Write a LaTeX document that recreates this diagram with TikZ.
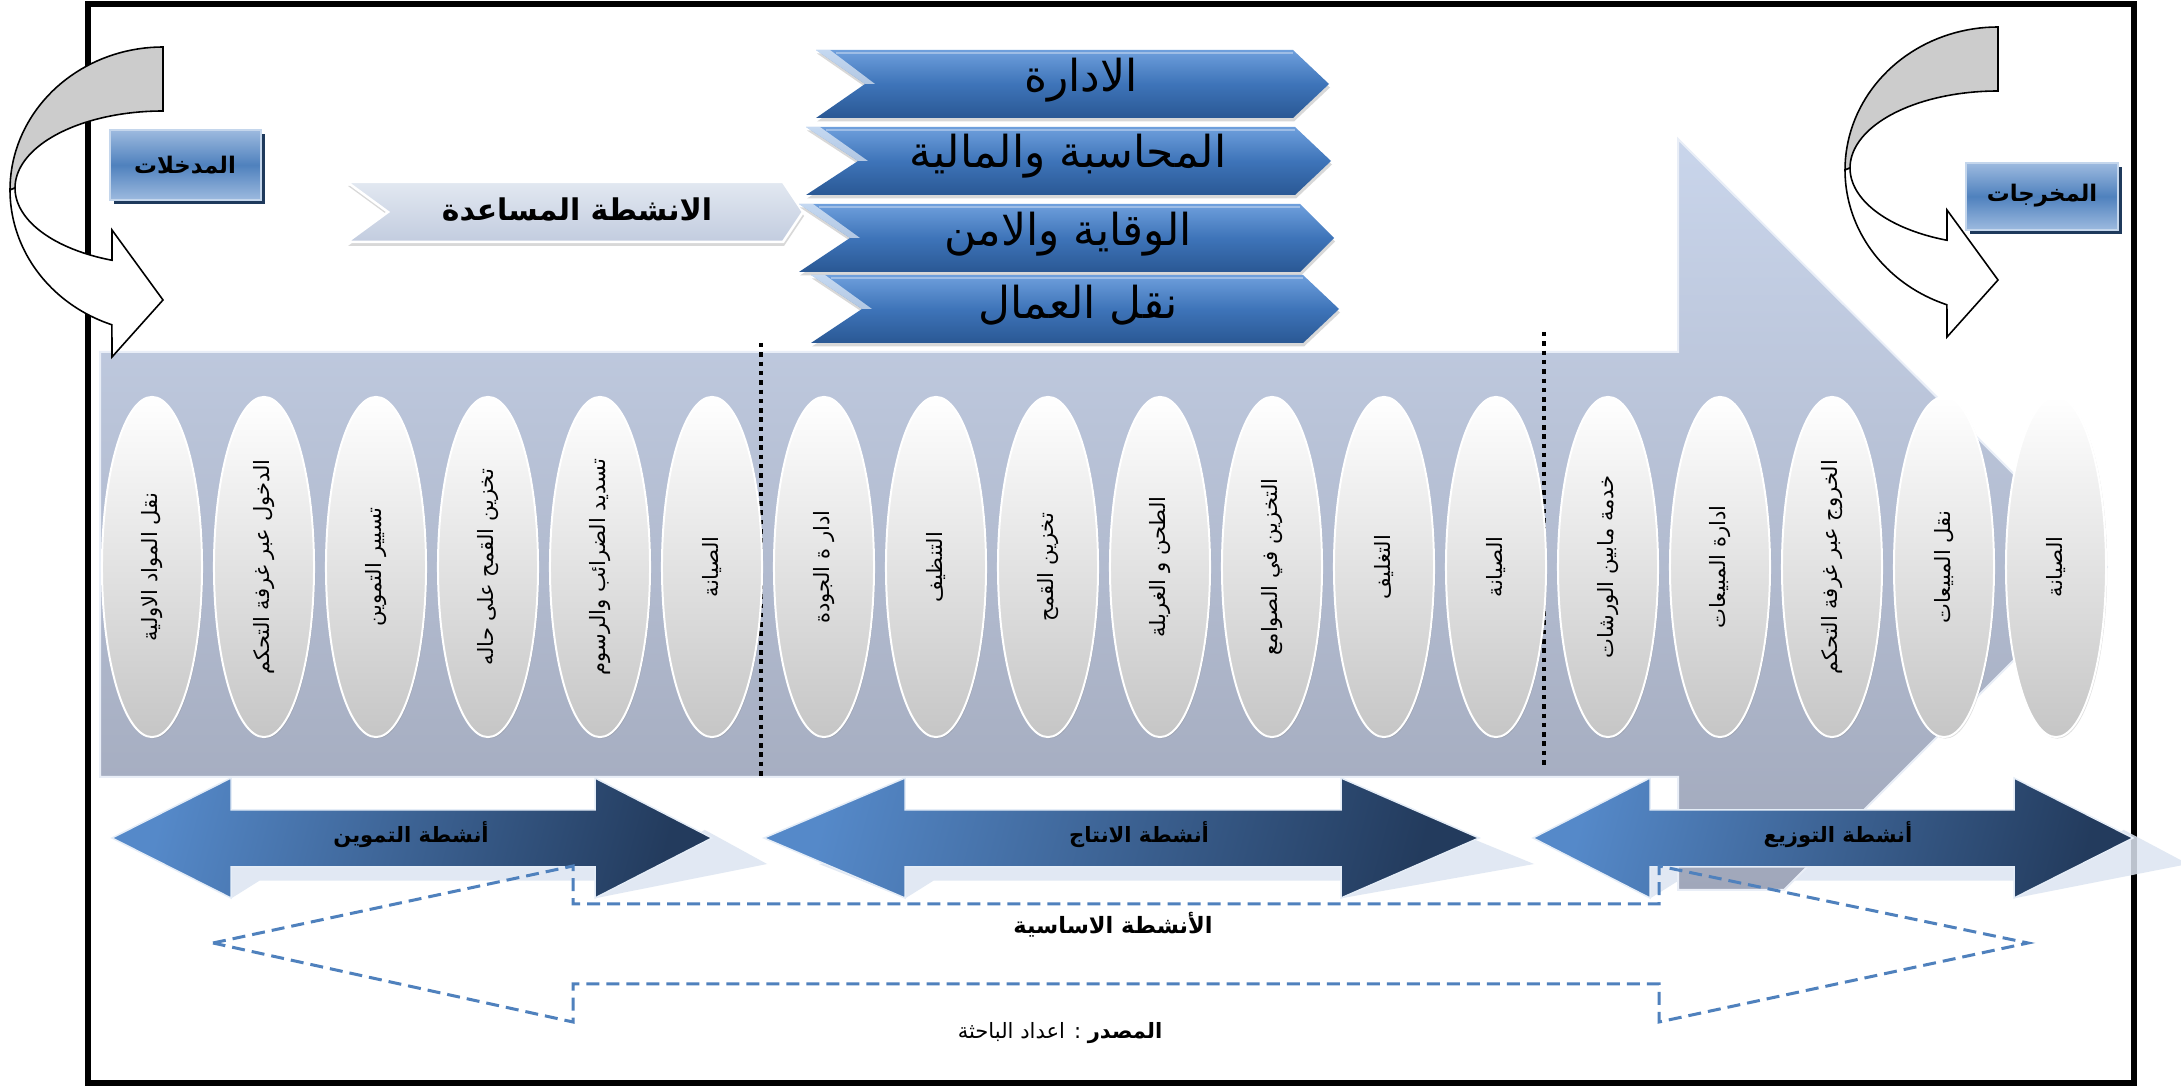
\documentclass[tikz,border=0pt]{standalone}
\usepackage{fontspec}
\TeXXeTstate=1
\newfontfamily\ar[Script=Arabic]{DejaVu Sans}
\usetikzlibrary{shapes.geometric,shadows}
\definecolor{bgtop}{HTML}{C9D5EB}
\definecolor{bgbot}{HTML}{A0A7BA}
\definecolor{dalight}{HTML}{5589C9}
\definecolor{dadark}{HTML}{233B5D}
\definecolor{dashblue}{HTML}{4F81BD}
\definecolor{shadowblue}{HTML}{DCE5F1}
\definecolor{chtop}{HTML}{6E9FDC}
\definecolor{chmid}{HTML}{3E74B9}
\definecolor{chbot}{HTML}{2A5894}
\definecolor{lctop}{HTML}{E2E8F1}
\definecolor{lcbot}{HTML}{C2CCDF}
\definecolor{boxlight}{HTML}{9DBADF}
\definecolor{boxmid}{HTML}{4F81BD}
\definecolor{boxshadow}{HTML}{1F3A5C}
\definecolor{curvegrey}{HTML}{CCCCCC}
% chevron: L, T, B, notch x, right corner x, tip x, style
\newcommand\chev[7]{\path[#7] (#1,#2) -- (#5,#2) -- (#6,{(#2+#3)/2}) -- (#5,#3) -- (#1,#3) -- (#4,{(#2+#3)/2}) -- cycle;}
\newcommand\chevgloss[4]{\fill[white,opacity=0.6] (#1,#2) -- (#4,{(#2+#3)/2}) -- ({#4+10},{(#2+#3)/2}) -- ({#1+14},#2) -- cycle;}
% double arrow: left tip, left head back, right head back, right tip
\newcommand\dblshadow[4]{\begin{scope}[cm={1,0,0.91,0.57,(8.1718cm,-3.8614cm)}]
 \fill[shadowblue,opacity=0.85] (#1,838) -- (#2,778) -- (#2,810) -- (#3,810) -- (#3,778) -- (#4,838) -- (#3,898) -- (#3,867) -- (#2,867) -- (#2,898) -- cycle;
 \end{scope}}
\newcommand\dblarrow[4]{\path[dblstyle] (#1,838) -- (#2,778) -- (#2,810) -- (#3,810) -- (#3,778) -- (#4,838) -- (#3,898) -- (#3,867) -- (#2,867) -- (#2,898) -- cycle;}
\newcommand\curvedarrow{%
 \filldraw[fill=curvegrey,line width=0.45pt] plot[domain=90:0,samples=40] ({163-153*cos(\x)},{190-143*sin(\x)}) -- plot[domain=0:90,samples=40] ({163-148*cos(\x)},{188-77*sin(\x)}) -- cycle;
 \filldraw[fill=white,line width=0.45pt] plot[domain=0:70.5,samples=40] ({163-153*cos(\x)},{190+143*sin(\x)}) -- (112,357) -- (163,300) -- (112,230) -- plot[domain=69.84:0,samples=40] ({163-148*cos(\x)},{188+77*sin(\x)}) -- cycle;}
\begin{document}
\begin{tikzpicture}[x=0.01cm,y=-0.01cm,
  ell/.style={ellipse,minimum width=1cm,minimum height=3.4cm,inner sep=0pt,top color=white,bottom color=gray!45,draw=white,line width=0.02cm,drop shadow={opacity=0.25,shadow xshift=0.012cm,shadow yshift=-0.015cm}},
  elltext/.style={rotate=90,font=\ar\fontsize{6}{6.5}\selectfont,inner sep=0pt},
  dblstyle/.style={top color=dalight,bottom color=dadark,shading angle=75,draw=white!85!dalight,line width=0.015cm},
  dashar/.style={draw=dashblue,line width=0.03cm,dash pattern=on 0.13cm off 0.07cm},
  dotline/.style={line width=0.045cm,dash pattern=on 0.045cm off 0.048cm},
  bluechev/.style={top color=chtop,bottom color=chbot,middle color=chmid,drop shadow={opacity=0.3,shadow xshift=0.01cm,shadow yshift=-0.035cm}},
  lightchev/.style={top color=lctop,bottom color=lcbot,draw=white,line width=0.025cm,drop shadow={opacity=0.3,shadow xshift=0.01cm,shadow yshift=-0.04cm}},
  bigtext/.style={font=\ar\fontsize{12.5}{13}\selectfont,inner sep=0pt},
  boldlbl/.style={font=\ar\bfseries\fontsize{#1}{#1}\selectfont,inner sep=0pt}]
\useasboundingbox (0,0) rectangle (2181,1086);
\fill[white] (0,0) rectangle (2181,1086);
% frame
\draw[line width=0.06cm] (88,4.5) rectangle (2134,1083);
% perspective shadows of the double arrows
\dblshadow{112}{231}{595}{712}
\dblshadow{764}{905}{1341}{1479}
\dblshadow{1533}{1650}{2014}{2133}
% big background arrow
\shade[top color=bgtop,bottom color=bgbot,draw=white!60!bgtop,line width=0.02cm]
  (100,352) -- (1678,352) -- (1678,139) -- (2107,567) -- (1784,890) -- (1678,890) -- (1678,777) -- (100,777) -- cycle;
% dotted separators
\draw[dotline] (761,343) -- (761,778);
\draw[dotline] (1544,332) -- (1544,768);
% ellipses
\foreach \k/\t in {0/{نقل المواد الاولية},1/{الدخول عبر غرفة التحكم},2/{تسيير التموين},3/{تخزين القمح على حاله},4/{تسديد الضرائب والرسوم},5/{الصيانة},6/{ادار ة الجودة},7/{التنظيف},8/{تخزين القمح},9/{الطحن و الغربلة},10/{التخزين في الصوامع},11/{التغليف},12/{الصيانة},13/{خدمة مابين الورشات},14/{ادارة المبيعات},15/{الخروج عبر غرفة التحكم},16/{نقل المبيعات},17/{الصيانة}}{
  \node[ell] (e\k) at ({152+112*\k},567) {};
  \node[elltext] (t\k) at (e\k.center) {\beginR\t\endR};
}
% double arrows
\dblarrow{112}{231}{595}{712}
\dblarrow{764}{905}{1341}{1479}
\dblarrow{1533}{1650}{2014}{2133}
% dashed main arrow
\path[dashar] (213,943) -- (573,866) -- (573,904) -- (1659,904) -- (1659,866) -- (2028,943) -- (1659,1022) -- (1659,984) -- (573,984) -- (573,1022) -- cycle;
% curved arrows
\curvedarrow
\begin{scope}[shift={(1835,-20)}]\curvedarrow\end{scope}
% boxes
\fill[boxshadow] (114,134) rectangle (265,204);
\shade[top color=boxlight,bottom color=boxlight,middle color=boxmid,draw=boxlight!60!white,line width=0.02cm] (110,130) rectangle (261,200);
\fill[boxshadow] (1970,167) rectangle (2122,234);
\shade[top color=boxlight,bottom color=boxlight,middle color=boxmid,draw=boxlight!60!white,line width=0.02cm] (1966,163) rectangle (2118,230);
% light chevron
\chev{347}{182}{242}{388}{783}{803}{lightchev}
% blue chevrons
\chev{816}{50}{118}{865}{1293}{1329}{bluechev}
\chev{806}{127}{195}{858}{1295}{1331}{bluechev}
\chev{799}{204}{272}{850}{1300}{1334}{bluechev}
\chev{811}{275}{343}{862}{1303}{1339}{bluechev}
\chevgloss{816}{50}{118}{865}
\chevgloss{806}{127}{195}{858}
\chevgloss{799}{204}{272}{850}
\chevgloss{811}{275}{343}{862}
\foreach \l/\r/\tt in {816/1293/53,806/1295/130,799/1300/207,811/1303/278}{
  \draw[white,opacity=0.35,line width=0.025cm] ({\l+20},\tt) -- (\r,\tt);}
% texts
\node[boldlbl=6.5] (inlbl) at (185,165) {\beginR المدخلات\endR};
\node[boldlbl=6.5] (outlbl) at (2042,196) {\beginR المخرجات\endR};
\node[boldlbl=8.5] (supp) at (577,210) {\beginR الانشطة المساعدة\endR};
\node[bigtext] (c1) at (1081,80) {\beginR الادارة\endR};
\node[bigtext] (c2) at (1068,156) {\beginR المحاسبة والمالية\endR};
\node[bigtext] (c3) at (1068,234) {\beginR الوقاية والامن\endR};
\node[bigtext] (c4) at (1078,305) {\beginR نقل العمال\endR};
\node[boldlbl=6] (a1) at (411,835) {\beginR أنشطة التموين\endR};
\node[boldlbl=6] (a2) at (1139,835) {\beginR أنشطة الانتاج\endR};
\node[boldlbl=6] (a3) at (1838,835) {\beginR أنشطة التوزيع\endR};
\node[boldlbl=6.4] (core) at (1113,925) {\beginR الأنشطة الاساسية\endR};
\node[font=\ar\fontsize{6}{6}\selectfont,inner sep=0pt] (src) at (1060,1033) {\beginR{\bfseries المصدر} : اعداد الباحثة\endR};
\end{tikzpicture}
\end{document}
